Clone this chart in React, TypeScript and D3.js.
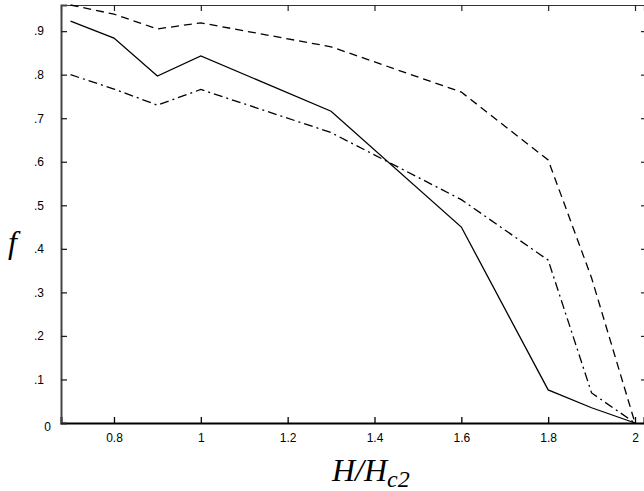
import { useEffect, useRef } from "react";
import * as d3 from "d3";

const xValues = [0.7, 0.8, 0.9, 1.0, 1.3, 1.6, 1.8, 1.9, 2.0];
const solidValues = [0.923, 0.884, 0.797, 0.843, 0.716, 0.45, 0.076, 0.035, 0.0];
const dashedValues = [0.96, 0.939, 0.905, 0.919, 0.864, 0.76, 0.604, 0.333, 0.0];
const dashDotValues = [0.8, 0.767, 0.73, 0.766, 0.667, 0.513, 0.374, 0.069, 0.0];

const xTicks = [0.8, 1, 1.2, 1.4, 1.6, 1.8, 2];
const yTicks = [0, 0.1, 0.2, 0.3, 0.4, 0.5, 0.6, 0.7, 0.8, 0.9];

const W = 644;
const H = 491;

export default function App() {
  const ref = useRef<SVGSVGElement>(null);

  useEffect(() => {
    const svg = d3.select(ref.current);
    svg.selectAll("*").remove();

    const x = d3.scaleLinear().domain([0.678, 2.0207]).range([61, 644]);
    const y = d3.scaleLinear().domain([0, 0.96]).range([423, 5]);

    const font = "Liberation Sans, Arial, sans-serif";

    // top axis (ticks only, thin line)
    const top = svg
      .append("g")
      .attr("transform", `translate(0,${y(0.96)})`)
      .call(d3.axisTop(x).tickValues(xTicks).tickSize(-6).tickFormat(() => ""));
    top.select(".domain").attr("stroke", "#333").attr("stroke-width", 1.2);
    top.selectAll("line").attr("stroke", "#222").attr("stroke-width", 1.2);

    // right axis, frame sits just past the image edge
    const right = svg
      .append("g")
      .attr("transform", `translate(646,0)`)
      .call(d3.axisRight(y).tickValues(yTicks).tickSize(-5).tickFormat(() => ""));
    right.select(".domain").attr("stroke", "#333");
    right.selectAll("line").attr("stroke", "#222").attr("stroke-width", 1.2);

    // bottom axis
    const bottom = svg
      .append("g")
      .attr("transform", `translate(0,${y(0)})`)
      .call(
        d3
          .axisBottom(x)
          .tickValues(xTicks)
          .tickSize(-6)
          .tickPadding(10)
          .tickFormat((d) => d3.format("")(d as number))
      );
    bottom.select(".domain").attr("stroke", "#000").attr("stroke-width", 2);
    bottom.selectAll("line").attr("stroke", "#000").attr("stroke-width", 1.3);
    bottom
      .selectAll("text")
      .attr("font-family", font)
      .attr("font-size", "12px")
      .attr("fill", "#000");

    // left axis
    const left = svg
      .append("g")
      .attr("transform", `translate(${x.range()[0]},0)`)
      .call(
        d3
          .axisLeft(y)
          .tickValues(yTicks)
          .tickSize(-6)
          .tickPadding(17)
          .tickFormat((d) => (d === 0 ? "0" : d3.format(".1f")(d as number).replace(/^0/, "")))
      );
    left.select(".domain").attr("stroke", "#444").attr("stroke-width", 2);
    left.selectAll("line").attr("stroke", "#222").attr("stroke-width", 1.3);
    left
      .selectAll("text")
      .attr("font-family", font)
      .attr("font-size", "12px")
      .attr("fill", "#000")
      .attr("dx", (d) => (d === 0 ? 7 : 0))
      .attr("dy", (d) => (d === 0 ? "0.6em" : "0.32em"));

    const series = [
      { values: solidValues, dash: null },
      { values: dashedValues, dash: "8,5" },
      { values: dashDotValues, dash: "9,4,2,4" },
    ];

    const line = d3
      .line<number>()
      .x((_, i) => x(xValues[i]))
      .y((d) => y(d));

    series.forEach((s) => {
      svg
        .append("path")
        .datum(s.values)
        .attr("fill", "none")
        .attr("stroke", "#000")
        .attr("stroke-width", 1.3)
        .attr("stroke-dasharray", s.dash)
        .attr("d", line);
    });

    // axis titles
    svg
      .append("text")
      .attr("x", 8)
      .attr("y", 253)
      .attr("font-family", "Liberation Serif, Times New Roman, serif")
      .attr("font-style", "italic")
      .attr("font-size", "32px")
      .text("f");

    const xt = svg
      .append("text")
      .attr("x", 332)
      .attr("y", 481)
      .attr("font-family", "Liberation Serif, Times New Roman, serif")
      .attr("font-style", "italic")
      .attr("font-size", "32px");
    xt.append("tspan").text("H/H");
    xt.append("tspan").attr("font-size", "24px").attr("dy", 6).text("c2");
  }, []);

  return (
    <svg
      ref={ref}
      width={W}
      height={H}
      style={{ position: "absolute", left: 0, top: 0, background: "#fff" }}
    />
  );
}
